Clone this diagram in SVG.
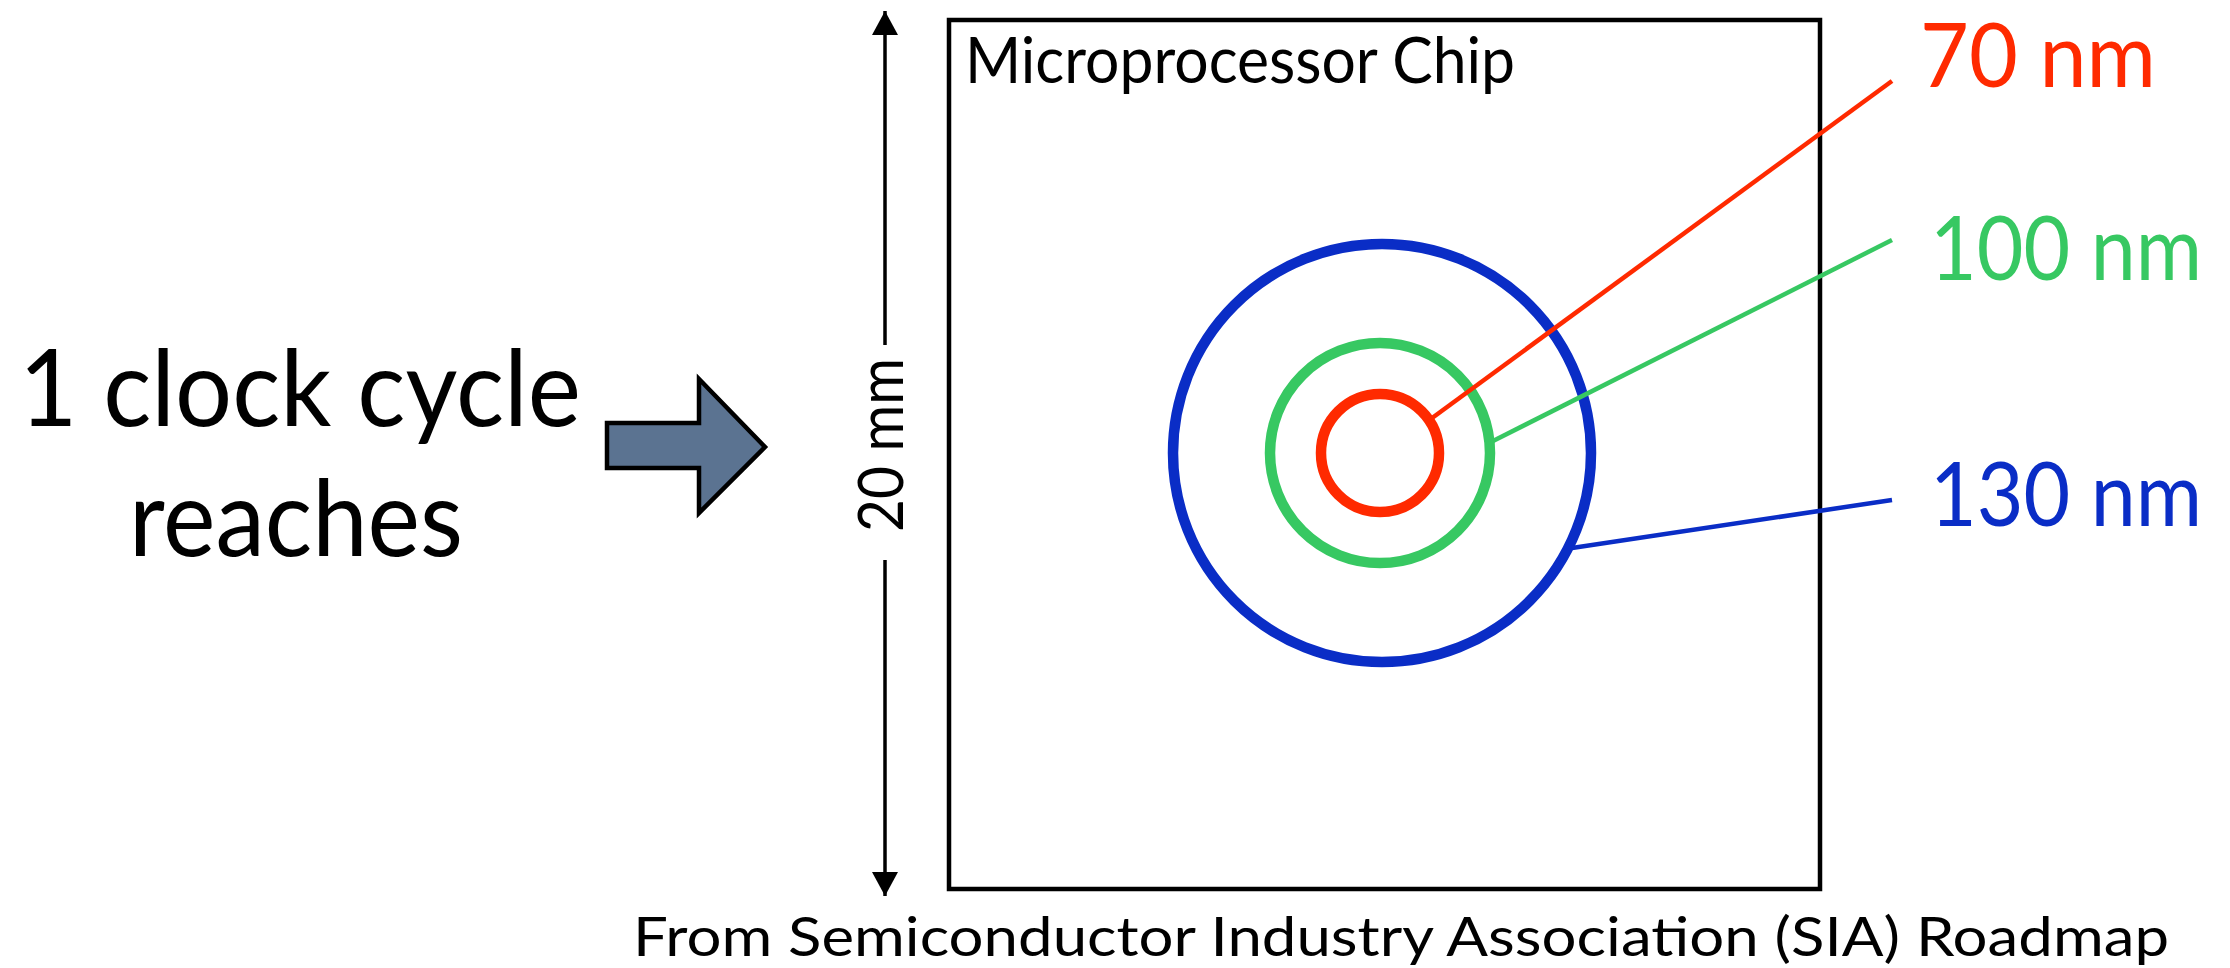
<svg xmlns="http://www.w3.org/2000/svg" width="2230" height="968" viewBox="0 0 2230 968">
<style>
  text { font-family: Lato, "Open Sans", "Liberation Sans", sans-serif; }
  .big { font-size: 106px; fill: #000; text-anchor: middle; }
  .chiplabel { font-size: 64px; fill: #000; }
  .dim { font-size: 62px; fill: #000; text-anchor: middle; }
  .nm { font-size: 90px; }
  .src { font-size: 54px; fill: #000; }
  .ring { fill: none; stroke-width: 10.5; }
  .lead { stroke-width: 4.5; fill: none; }
  .red { stroke: #ff2a00; }
  .green { stroke: #37c862; }
  .blue { stroke: #0a2dc6; }
</style>
<defs>
  <marker id="tip" viewBox="0 0 24 26" refX="24" refY="13" markerWidth="24" markerHeight="26" markerUnits="userSpaceOnUse" orient="auto">
    <path d="M0,0 L24,13 L0,26 z" fill="#000"/>
  </marker>
</defs>
<rect width="2230" height="968" fill="#fff"/>

<g id="clock-label">
  <text class="big" x="300" y="426" textLength="562" lengthAdjust="spacingAndGlyphs">1 clock cycle</text>
  <text class="big" x="296" y="556" textLength="334" lengthAdjust="spacingAndGlyphs">reaches</text>
</g>

<g id="block-arrow">
  <polygon points="607,423 699,423 699,379 765,447 699,513 699,468 607,468" fill="#5b7391" stroke="#000" stroke-width="4.5" stroke-linejoin="miter"/>
</g>

<g id="dimension">
  <line x1="885" y1="345" x2="885" y2="11" stroke="#000" stroke-width="3.5" marker-end="url(#tip)"/>
  <line x1="885" y1="560" x2="885" y2="896" stroke="#000" stroke-width="3.5" marker-end="url(#tip)"/>
  <text class="dim" transform="translate(903,445) rotate(-90)" x="0" y="0" textLength="174" lengthAdjust="spacingAndGlyphs">20 mm</text>
</g>

<g id="chip">
  <rect x="949" y="20" width="871" height="869" fill="none" stroke="#000" stroke-width="4.5"/>
  <text class="chiplabel" x="965" y="83" textLength="550" lengthAdjust="spacingAndGlyphs">Microprocessor Chip</text>
</g>

<g id="ring-130"><circle class="ring blue" cx="1382" cy="453" r="209"/></g>
<g id="ring-100"><circle class="ring green" cx="1380" cy="453" r="110"/></g>
<g id="ring-70"><circle class="ring red" cx="1380" cy="453" r="59"/></g>

<g id="connectors">
  <line class="lead red" x1="1428" y1="421" x2="1892" y2="81"/>
  <line class="lead green" x1="1493" y1="441" x2="1892" y2="240"/>
  <line class="lead blue" x1="1572" y1="548" x2="1892" y2="500"/>
</g>

<g id="label-70nm">
  <text class="nm" x="1920" y="87" fill="#ff2a00" textLength="236" lengthAdjust="spacingAndGlyphs">70 nm</text>
</g>
<g id="label-100nm">
  <text class="nm" x="1930" y="280" fill="#37c862" textLength="272" lengthAdjust="spacingAndGlyphs">100 nm</text>
</g>
<g id="label-130nm">
  <text class="nm" x="1930" y="526" fill="#0a2dc6" textLength="272" lengthAdjust="spacingAndGlyphs">130 nm</text>
</g>

<g id="source">
  <text class="src" x="633" y="956" textLength="1536" lengthAdjust="spacingAndGlyphs">From Semiconductor Industry Association (SIA) Roadmap</text>
</g>
</svg>
